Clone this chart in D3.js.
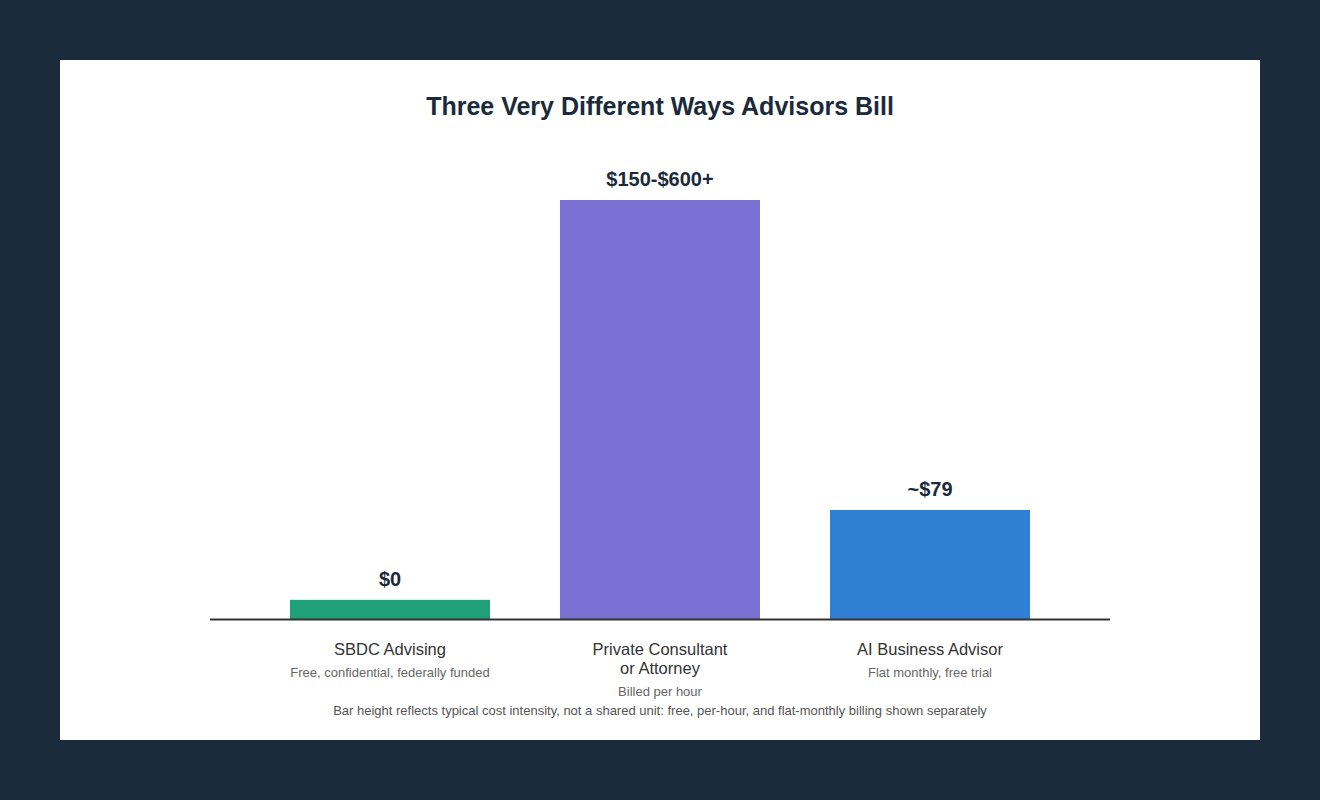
<!DOCTYPE html>
<html>
<head>
<meta charset="utf-8">
<script src="https://cdn.jsdelivr.net/npm/d3@7"></script>
<style>
html,body{margin:0;padding:0;background:#1b2b3b;}
svg{display:block;}
text{font-family:"Liberation Sans",Arial,Helvetica,sans-serif;}
</style>
</head>
<body>
<svg id="chart" width="1320" height="800"></svg>
<script>
const categories = ["SBDC Advising", "Private Consultant\nor Attorney", "AI Business Advisor"];
const subtitles = ["Free, confidential, federally funded", "Billed per hour", "Flat monthly, free trial"];
const valueLabels = ["$0", "$150-$600+", "~$79"];
const intensity = [4.8, 100, 26.2];
const colors = ["#1fa077", "#7b70d4", "#2f7fd4"];
const titleText = "Three Very Different Ways Advisors Bill";
const footnote = "Bar height reflects typical cost intensity, not a shared unit: free, per-hour, and flat-monthly billing shown separately";

const svg = d3.select("#chart");
svg.append("rect").attr("x",0).attr("y",0).attr("width",1320).attr("height",800).attr("fill","#1b2b3b");
svg.append("rect").attr("x",60).attr("y",60).attr("width",1200).attr("height",680).attr("fill","#ffffff");

svg.append("text").attr("x",660).attr("y",115).attr("text-anchor","middle")
  .attr("font-size",25).attr("font-weight","bold").attr("fill","#1b2a3a").text(titleText);

const x = d3.scaleBand().domain(d3.range(categories.length)).range([210,1110])
  .paddingInner(70/270).paddingOuter(80/270);
const y = d3.scaleLinear().domain([0,100]).range([620,200]);

const g = svg.append("g");
g.selectAll("rect.bar").data(intensity).join("rect").attr("class","bar")
  .attr("x",(d,i)=>x(i)).attr("width",x.bandwidth())
  .attr("y",d=>y(d)).attr("height",d=>y(0)-y(d))
  .attr("fill",(d,i)=>colors[i]);

g.selectAll("text.val").data(intensity).join("text").attr("class","val")
  .attr("x",(d,i)=>x(i)+x.bandwidth()/2).attr("y",d=>y(d)-14)
  .attr("text-anchor","middle").attr("font-size",20).attr("font-weight","bold")
  .attr("fill","#1b2a3a").text((d,i)=>valueLabels[i]);

svg.append("line").attr("x1",210).attr("x2",1110).attr("y1",619.5).attr("y2",619.5)
  .attr("stroke","#333").attr("stroke-width",2);

categories.forEach((c,i)=>{
  const cx = x(i)+x.bandwidth()/2;
  const lines = c.split("\n");
  lines.forEach((l,j)=>{
    svg.append("text").attr("x",cx).attr("y",655+j*19).attr("text-anchor","middle")
      .attr("font-size",16.5).attr("fill","#333").text(l);
  });
  svg.append("text").attr("x",cx).attr("y",677+(lines.length-1)*19).attr("text-anchor","middle")
    .attr("font-size",13).attr("fill","#666").text(subtitles[i]);
});

svg.append("text").attr("x",660).attr("y",715).attr("text-anchor","middle")
  .attr("font-size",13).attr("fill","#555").text(footnote);
</script>
</body>
</html>
